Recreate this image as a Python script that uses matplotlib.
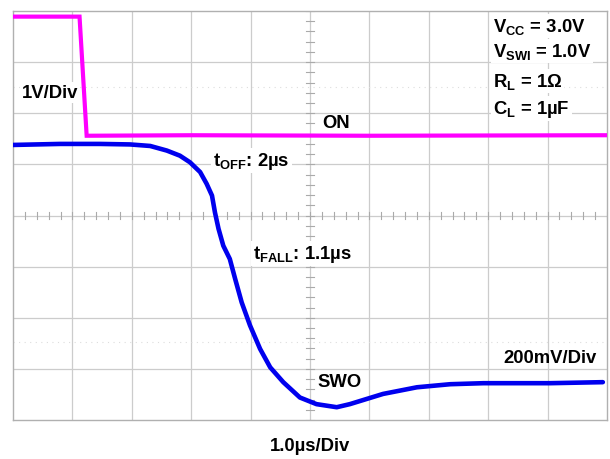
import numpy as np
import matplotlib
matplotlib.use("Agg")
import matplotlib.pyplot as plt

plt.rcParams['font.family'] = ['Liberation Sans', 'DejaVu Sans']
plt.rcParams['font.weight'] = 'bold'

# scope traces, in divisions (x: 0..10, y: 0..8)
on_t = [0.0, 1.12, 1.24, 3.0, 6.0, 9.97]
on_v = [7.89, 7.89, 5.56, 5.57, 5.56, 5.57]

swo_t = [0.00, 0.79, 1.46, 1.97, 2.31, 2.59, 2.81, 2.98, 3.15, 3.26, 3.35, 3.40,
         3.46, 3.54, 3.65, 3.74, 3.85, 3.99, 4.16, 4.33, 4.55, 4.83, 5.11, 5.45,
         5.67, 6.23, 6.80, 7.36, 7.92, 9.04, 9.93]
swo_v = [5.38, 5.40, 5.40, 5.39, 5.36, 5.27, 5.17, 5.04, 4.85, 4.62, 4.39, 4.06,
         3.74, 3.41, 3.15, 2.76, 2.30, 1.85, 1.39, 1.03, 0.74, 0.44, 0.31, 0.25,
         0.31, 0.51, 0.64, 0.70, 0.72, 0.72, 0.74]

conditions = [r"V$_\mathregular{CC}$ = 3.0V", r"V$_\mathregular{SWI}$ = 1.0V",
              r"R$_\mathregular{L}$ = 1Ω", r"C$_\mathregular{L}$ = 1µF"]
cond_y = [7.71, 7.22, 6.63, 6.09]

fig = plt.figure(figsize=(6.1, 4.6), dpi=100)
ax = fig.add_axes([13 / 610, 39 / 460, 594 / 610, 409 / 460])
ax.set_xlim(0, 10)
ax.set_ylim(0, 8)
ax.set_xticks([])
ax.set_yticks([])
for s in ax.spines.values():
    s.set_color('#b0b0b0')
    s.set_linewidth(1)

gc = '#cccccc'
for x in range(1, 10):
    ax.axvline(x, color=gc, lw=0.9, zorder=0)
for y in range(1, 8):
    ax.axhline(y, color=gc, lw=0.9, zorder=0)

# minor ticks on the centre cross
for x in np.arange(0, 10.01, 0.2):
    ax.plot([x, x], [3.93, 4.07], color='#aaaaaa', lw=0.8, zorder=0)
for y in np.arange(0, 8.01, 0.2):
    ax.plot([4.94, 5.06], [y, y], color='#aaaaaa', lw=0.8, zorder=0)

# faint cursor lines
for y in [6.52, 1.53]:
    ax.axhline(y, color='#dddddd', lw=0.8, ls=(0, (1, 4)), zorder=0)

ax.plot(on_t, on_v, color='#ff00ff', lw=3.0, solid_joinstyle='miter', zorder=3)
ax.plot(swo_t, swo_v, color='#0000ee', lw=3.3, solid_joinstyle='round',
        solid_capstyle='round', zorder=3)

box = dict(facecolor='white', edgecolor='none', pad=1.5)
fs = 13.3
ax.text(0.15, 6.40, "1V/Div", fontsize=fs, va='center', ha='left', bbox=box, zorder=4)
ax.text(5.44, 5.81, "ON", fontsize=fs, va='center', ha='center', zorder=4)
ax.text(3.37, 5.08, r"t$_\mathregular{OFF}$: 2µs", fontsize=fs, va='center',
        ha='left', bbox=box, zorder=4)
ax.text(4.04, 3.25, r"t$_\mathregular{FALL}$: 1.1µs", fontsize=fs, va='center',
        ha='left', bbox=box, zorder=4)
ax.text(5.12, 0.76, "SWO", fontsize=fs, va='center', ha='left', zorder=4)
ax.text(9.83, 1.23, "200mV/Div", fontsize=fs, va='center', ha='right', zorder=4)

for c, y in zip(conditions, cond_y):
    ax.text(8.08, y, c, fontsize=fs, va='center', ha='left', bbox=box, zorder=4)

fig.text(310 / 610, 1 - 447 / 460, "1.0µs/Div", fontsize=fs, ha='center', va='center')

fig.savefig("out.png", dpi=100)
